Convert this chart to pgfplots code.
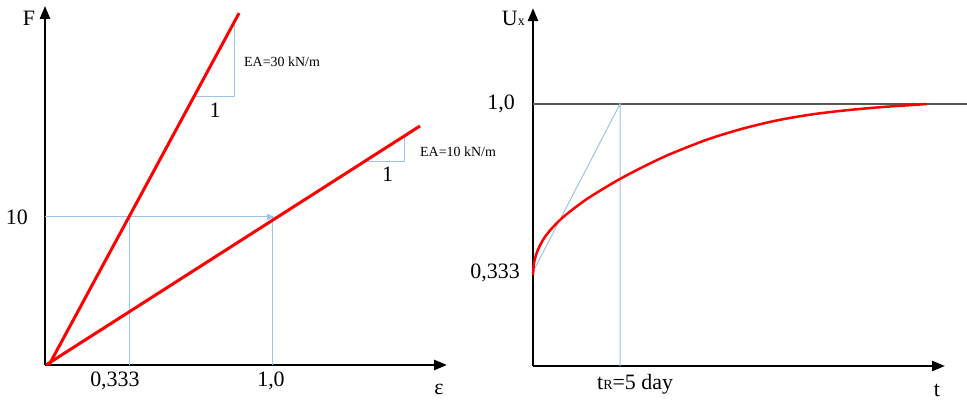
\documentclass[border=0pt]{standalone}
\usepackage{pgfplots}
\pgfplotsset{compat=1.18}
\usepackage{fontspec}
\setmainfont{Liberation Serif}
\usetikzlibrary{arrows.meta}
\definecolor{lblue}{RGB}{157,195,230}
\definecolor{dgray}{RGB}{89,89,89}
\newcommand{\bigf}{\fontsize{22}{22}\selectfont}
\newcommand{\smlf}{\fontsize{14}{14}\selectfont}
\begin{document}
\begin{tikzpicture}
\useasboundingbox (0,0) rectangle (967bp,400bp);
\pgfplotsset{myax/.style={
  axis lines=left,
  axis line style={line width=2.5bp, black, -{Triangle[length=13bp,width=10bp]}},
  xtick=\empty, ytick=\empty,
  clip=false,
  anchor=south west,
}}
% ---------------- left: F vs epsilon ----------------
\begin{axis}[myax, at={(45bp,35bp)}, x=227bp, y=14.8bp,
  xmin=0, xmax=1.771, ymin=0, ymax=24.26]
  % thin blue construction lines
  \addplot[lblue, line width=1bp, -{Triangle[length=8bp,width=6bp]}] coordinates {(0,10) (1.013,10)};
  \addplot[lblue, line width=1bp] coordinates {(0.3744,0) (0.3744,10)};
  \addplot[lblue, line width=1bp] coordinates {(1,0) (1,10)};
  % slope triangles
  \addplot[lblue, line width=1bp] coordinates {(0.661,18.11) (0.8326,18.11) (0.8326,23.1)};
  \addplot[lblue, line width=1bp] coordinates {(1.4097,13.72) (1.5815,13.72) (1.5815,15.34)};
  % red lines
  \addplot[red, line width=3bp] coordinates {(0.0176,0) (0.855,23.78)};
  \addplot[red, line width=3bp] coordinates {(0.0044,0) (1.652,16.15)};
  % labels
  \node[font=\bigf] at (axis cs:-0.0705,23.45) {F};
  \node[font=\bigf, anchor=east, inner sep=0pt] at (axis cs:-0.0749,10) {10};
  \node[font=\bigf] at (axis cs:0.308,-1.08) {0,333};
  \node[font=\bigf] at (axis cs:0.9956,-1.08) {1,0};
  \node[font=\bigf] at (axis cs:1.7357,-1.65) {ε};
  \node[font=\bigf] at (axis cs:0.749,17.23) {1};
  \node[font=\bigf] at (axis cs:1.5088,12.86) {1};
  \node[font=\smlf, anchor=base west, inner sep=0pt] at (axis cs:0.8767,20.20) {EA=30 kN/m};
  \node[font=\smlf, anchor=base west, inner sep=0pt] at (axis cs:1.652,14.12) {EA=10 kN/m};
\end{axis}
% ---------------- right: Ux vs t ----------------
\begin{axis}[myax, at={(533bp,34bp)}, x=17.4bp, y=262bp,
  xmin=0, xmax=23.68, ymin=0, ymax=1.366]
  \addplot[dgray, line width=1.5bp] coordinates {(0,1) (24.94,1)};
  \addplot[lblue, line width=1bp] coordinates {(0,0.36) (5,1) (5,0)};
  \addplot[red, line width=2.5bp, smooth] coordinates {
    (0,0.347) (0.05,0.389) (0.15,0.419) (0.3,0.446) (0.6,0.484) (1,0.519)
    (1.5,0.554) (2,0.583) (3,0.633) (4,0.675) (5,0.714) (6,0.749)
    (7,0.782) (8,0.812) (10,0.864) (12,0.905) (14,0.937) (16,0.960)
    (18,0.976) (20,0.988) (22,0.997) (22.63,1.0)};
  \node[anchor=base east, inner sep=0pt] at (axis cs:-0.46,1.301) {{\bigf U}{\smlf x}};
  \node[font=\bigf, anchor=east, inner sep=0pt] at (axis cs:-1.034,1.0) {1,0};
  \node[font=\bigf, anchor=east, inner sep=0pt] at (axis cs:-0.747,0.355) {0,333};
  \node[anchor=base west, inner sep=0pt] at (axis cs:3.678,-0.0916) {{\bigf t}{\smlf R}{\bigf =5 day}};
  \node[font=\bigf] at (axis cs:23.22,-0.095) {t};
\end{axis}
\end{tikzpicture}
\end{document}
